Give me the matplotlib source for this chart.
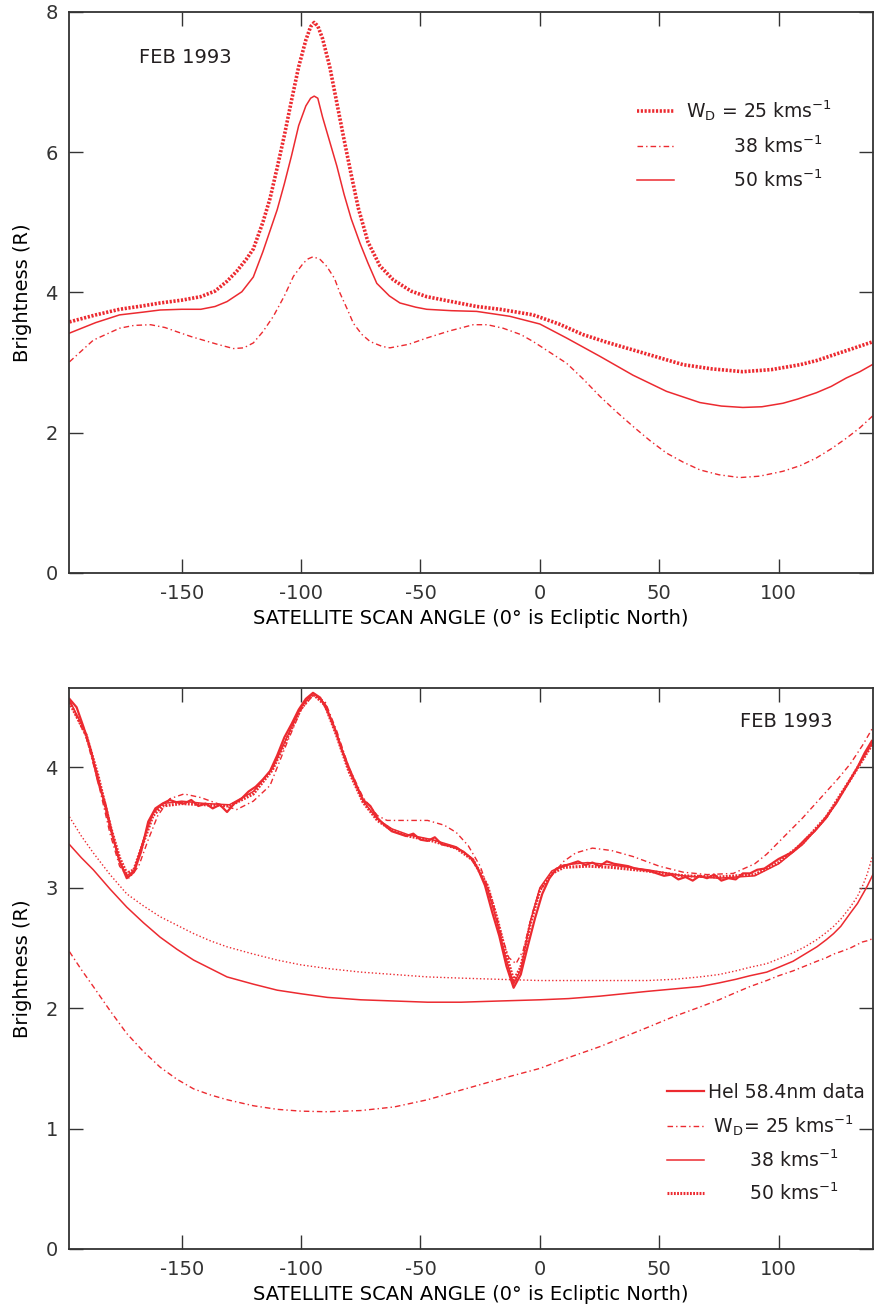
import matplotlib
matplotlib.use("Agg")
import matplotlib.pyplot as plt
import numpy as np

plt.rcParams["font.family"] = ["DejaVu Sans"]
plt.rcParams["mathtext.default"] = "regular"
plt.rcParams["axes.unicode_minus"] = False
plt.rcParams["axes.edgecolor"] = "#333333"
plt.rcParams["xtick.color"] = "#333333"
plt.rcParams["ytick.color"] = "#333333"
plt.rcParams["text.color"] = "#231f20"

RED = "#ec2a30"
DOT_THICK = (0, (0.6, 0.45))
DOT_THIN = (0, (1, 1.6))
DASH_DOT = (0, (4, 2.2, 1, 2.2))

# ---- top panel: model brightness vs scan angle ----
top_x25 = [-197, -186, -176, -166, -159, -150, -142, -136, -131, -127, -123, -120, -116,
           -113, -110, -107, -104, -101, -98, -96, -94.5, -93, -91, -88, -85, -82, -79,
           -76, -72, -67, -61.4, -54, -47.4, -37, -26.5, -16.7, -2.8, 8, 18, 28, 39, 50,
           60, 72, 85, 97, 109, 116, 123, 131, 139.7]
top_y25 = [3.58, 3.68, 3.76, 3.81, 3.85, 3.89, 3.94, 4.02, 4.16, 4.30, 4.47, 4.62, 5.00,
           5.34, 5.78, 6.24, 6.74, 7.22, 7.60, 7.79, 7.85, 7.80, 7.62, 7.22, 6.70, 6.18, 5.68,
           5.20, 4.72, 4.38, 4.18, 4.02, 3.94, 3.87, 3.80, 3.76, 3.68, 3.55, 3.40, 3.29, 3.18,
           3.07, 2.97, 2.91, 2.87, 2.90, 2.97, 3.03, 3.11, 3.20, 3.30]

top_x38 = [-197, -187, -176, -170, -163, -157, -152, -146, -141, -135, -128.3, -124, -120,
           -116, -111.6, -107, -103.2, -99, -97, -94.9, -92, -89.2, -86, -83.7, -80.5, -78.1,
           -74.5, -71.1, -66, -62.8, -55, -47.4, -38, -27.9, -22, -15.4, -8, -2.8, 4, 11.2,
           18, 25.1, 32, 39, 46, 53, 60, 67, 75, 83.7, 92, 101.8, 109, 115.8, 122, 128.3,
           134, 139.7]
top_y38 = [3.01, 3.32, 3.49, 3.53, 3.54, 3.50, 3.44, 3.37, 3.32, 3.26, 3.20, 3.21, 3.28,
           3.44, 3.66, 3.95, 4.23, 4.42, 4.48, 4.51, 4.47, 4.37, 4.20, 3.99, 3.75, 3.56,
           3.40, 3.30, 3.23, 3.21, 3.26, 3.35, 3.45, 3.54, 3.54, 3.49, 3.40, 3.30, 3.15, 2.99,
           2.77, 2.52, 2.30, 2.09, 1.89, 1.71, 1.58, 1.47, 1.40, 1.36, 1.38, 1.45, 1.53, 1.64,
           1.77, 1.92, 2.07, 2.25]

top_x50 = [-197, -186, -176, -166, -159, -150, -142, -136, -131, -124.8, -120, -116, -113,
           -110, -107, -104, -101, -98, -96, -94.5, -93, -91, -88, -85, -82, -79, -75.3,
           -72, -68.3, -63, -58.6, -52, -47.4, -37, -26.5, -12.6, 0, 11.2, 25.1, 39, 53, 67,
           76, 85, 93, 101.8, 108, 115.8, 122, 128.3, 134, 139.7]
top_y50 = [3.42, 3.57, 3.68, 3.72, 3.75, 3.76, 3.76, 3.80, 3.87, 4.01, 4.22, 4.58, 4.88,
           5.18, 5.55, 5.95, 6.38, 6.66, 6.77, 6.80, 6.77, 6.50, 6.15, 5.80, 5.40, 5.05, 4.70,
           4.42, 4.13, 3.95, 3.85, 3.79, 3.76, 3.74, 3.73, 3.66, 3.55, 3.35, 3.09, 2.82, 2.59,
           2.43, 2.38, 2.36, 2.37, 2.42, 2.48, 2.57, 2.66, 2.78, 2.87, 2.98]

# ---- bottom panel: HeI 58.4 nm data and fitted models ----
data_x = np.arange(-197, 140, 3)
data_y = [4.57, 4.50, 4.33, 4.14, 3.88, 3.70, 3.44, 3.22, 3.08, 3.13,
          3.30, 3.55, 3.66, 3.70, 3.73, 3.71, 3.70, 3.73, 3.68, 3.70,
          3.66, 3.69, 3.63, 3.70, 3.74, 3.80, 3.84, 3.90, 3.97, 4.10,
          4.25, 4.36, 4.48, 4.57, 4.62, 4.58, 4.47, 4.33, 4.15, 4.00,
          3.86, 3.73, 3.68, 3.58, 3.52, 3.47, 3.45, 3.43, 3.45, 3.40,
          3.39, 3.42, 3.36, 3.35, 3.33, 3.30, 3.25, 3.16, 3.02, 2.80,
          2.60, 2.35, 2.17, 2.28, 2.52, 2.75, 2.95, 3.08, 3.16, 3.18,
          3.20, 3.22, 3.19, 3.21, 3.18, 3.22, 3.20, 3.19, 3.18, 3.16,
          3.15, 3.14, 3.12, 3.10, 3.11, 3.07, 3.09, 3.06, 3.10, 3.08,
          3.11, 3.06, 3.08, 3.07, 3.12, 3.12, 3.15, 3.16, 3.20, 3.24,
          3.27, 3.30, 3.36, 3.42, 3.47, 3.54, 3.62, 3.70, 3.80, 3.90,
          4.00, 4.12, 4.22]

fit_x = [-197, -190, -185, -180, -176, -173, -170, -166, -162, -158, -150, -140, -130,
         -120, -112, -105, -100, -95, -90, -85, -80, -74, -68, -62, -55, -45, -35, -28,
         -22, -18, -14, -11, -8, -4, 0, 5, 10, 20, 30, 45, 60, 75, 90, 100, 110, 120,
         130, 139.7]
fit38_y = [4.56, 4.28, 3.92, 3.50, 3.22, 3.10, 3.14, 3.40, 3.62, 3.70, 3.72, 3.70, 3.69,
           3.80, 3.99, 4.29, 4.50, 4.62, 4.53, 4.27, 3.98, 3.72, 3.57, 3.49, 3.44, 3.40,
           3.34, 3.24, 3.00, 2.72, 2.40, 2.20, 2.32, 2.72, 3.00, 3.14, 3.19, 3.21, 3.19,
           3.15, 3.10, 3.08, 3.10, 3.20, 3.36, 3.58, 3.90, 4.22]
fit50_y = [4.54, 4.27, 3.93, 3.52, 3.25, 3.12, 3.15, 3.38, 3.60, 3.68, 3.70, 3.69, 3.68,
           3.78, 3.98, 4.28, 4.49, 4.61, 4.52, 4.26, 3.97, 3.71, 3.56, 3.48, 3.43, 3.39,
           3.33, 3.23, 3.02, 2.75, 2.44, 2.23, 2.34, 2.70, 2.98, 3.12, 3.17, 3.18, 3.17,
           3.14, 3.10, 3.09, 3.11, 3.21, 3.37, 3.59, 3.90, 4.21]

fit25_x = [-197, -190, -185, -180, -176, -172, -168, -164, -160, -155, -149, -142, -135,
           -127, -120, -113, -106, -100, -95, -90, -85, -80, -74, -68, -64, -55, -47, -40,
           -35, -30, -25, -20, -16, -13, -10, -7, -3, 0, 4, 10, 15, 22, 30, 39, 50, 60, 70,
           81, 90, 95, 100, 105, 110, 115, 120, 125, 130, 135, 139.7]
fit25_y = [4.55, 4.25, 3.88, 3.45, 3.18, 3.08, 3.18, 3.40, 3.60, 3.74, 3.78, 3.75, 3.70,
           3.65, 3.72, 3.85, 4.20, 4.48, 4.60, 4.55, 4.30, 4.00, 3.75, 3.60, 3.56, 3.56,
           3.56, 3.52, 3.46, 3.35, 3.18, 2.90, 2.60, 2.42, 2.37, 2.48, 2.80, 2.98, 3.08, 3.22,
           3.29, 3.33, 3.31, 3.26, 3.18, 3.13, 3.11, 3.12, 3.20, 3.28, 3.38, 3.48, 3.58, 3.69,
           3.80, 3.91, 4.03, 4.18, 4.34]

# unscaled model curves below the data
low_x = [-197, -192, -187, -180, -173, -166, -159, -152, -145, -138, -131, -120, -110,
         -100, -89, -75, -61, -47, -33, -17, 0, 12, 25, 35, 45, 56, 67, 75, 82, 88, 95,
         100, 106, 111, 116, 120, 123, 126, 130, 133, 135, 137, 139.7]
low50_y = [3.59, 3.43, 3.29, 3.11, 2.95, 2.85, 2.76, 2.69, 2.62, 2.56, 2.51, 2.45, 2.40,
           2.36, 2.33, 2.30, 2.28, 2.26, 2.25, 2.24, 2.23, 2.23, 2.23, 2.23, 2.23, 2.24,
           2.26, 2.28, 2.31, 2.34, 2.37, 2.41, 2.46, 2.51, 2.57, 2.63, 2.68, 2.74, 2.84,
           2.93, 3.01, 3.11, 3.29]
low38_y = [3.36, 3.25, 3.15, 2.99, 2.84, 2.71, 2.59, 2.49, 2.40, 2.33, 2.26, 2.20, 2.15,
           2.12, 2.09, 2.07, 2.06, 2.05, 2.05, 2.06, 2.07, 2.08, 2.10, 2.12, 2.14, 2.16,
           2.18, 2.21, 2.24, 2.27, 2.30, 2.34, 2.39, 2.45, 2.51, 2.57, 2.62, 2.68, 2.79,
           2.87, 2.94, 3.01, 3.12]
low25_y = [2.47, 2.32, 2.18, 1.98, 1.79, 1.64, 1.51, 1.41, 1.33, 1.28, 1.24, 1.19, 1.16,
           1.145, 1.14, 1.15, 1.18, 1.24, 1.32, 1.41, 1.50, 1.59, 1.68, 1.76, 1.84, 1.93,
           2.01, 2.07, 2.13, 2.18, 2.23, 2.27, 2.31, 2.35, 2.39, 2.42, 2.45, 2.47, 2.50,
           2.53, 2.55, 2.56, 2.58]

x_ticks = [-150, -100, -50, 0, 50, 100]
xlabel = "SATELLITE SCAN ANGLE (0\u00b0 is Ecliptic North)"

fig = plt.figure(figsize=(8.74, 13.15), dpi=100)
ax1 = fig.add_axes([0.0789, 0.5643, 0.9205, 0.4266])
ax2 = fig.add_axes([0.0789, 0.0502, 0.9205, 0.4266])

ax1.plot(top_x25, top_y25, color=RED, lw=2.6, linestyle=DOT_THICK,
         label=r"W$_D$ = 25 kms$^{-1}$")
ax1.plot(top_x38, top_y38, color=RED, lw=1.0, linestyle=DASH_DOT,
         label="        38 kms$^{-1}$")
ax1.plot(top_x50, top_y50, color=RED, lw=1.1, label="        50 kms$^{-1}$")
ax1.set_ylim(0, 8)
ax1.set_yticks([0, 2, 4, 6, 8])
ax1.text(-168, 7.35, "FEB 1993", fontsize=14, va="center")
ax1.legend(loc="upper left", bbox_to_anchor=(0.685, 0.876), frameon=False, fontsize=13.5,
           handlelength=2.0, handletextpad=0.6, labelspacing=0.65)

ax2.plot(low_x, low50_y, color=RED, lw=1.0, linestyle=DOT_THIN)
ax2.plot(low_x, low38_y, color=RED, lw=1.1)
ax2.plot(low_x, low25_y, color=RED, lw=1.0, linestyle=DASH_DOT)
h25, = ax2.plot(fit25_x, fit25_y, color=RED, lw=1.0, linestyle=DASH_DOT)
h50, = ax2.plot(fit_x, fit50_y, color=RED, lw=2.2, linestyle=DOT_THICK)
h38, = ax2.plot(fit_x, fit38_y, color=RED, lw=1.1)
hdat, = ax2.plot(data_x, data_y, color=RED, lw=1.6)
ax2.set_ylim(0, 4.66)
ax2.set_yticks([0, 1, 2, 3, 4])
ax2.text(83.7, 4.38, "FEB 1993", fontsize=14, va="center")
ax2.legend([hdat, h25, h38, h50],
           ["Hel 58.4nm data", r" W$_D$= 25 kms$^{-1}$",
            "       38 kms$^{-1}$", "       50 kms$^{-1}$"],
           loc="upper left", bbox_to_anchor=(0.722, 0.326), frameon=False, fontsize=13.5,
           handlelength=2.0, handletextpad=0.2, labelspacing=0.6)

for ax in (ax1, ax2):
    ax.set_xlim(-197.2, 139.7)
    ax.set_xticks(x_ticks)
    ax.tick_params(direction="in", top=True, right=True, length=10, width=1.0,
                   labelsize=14, pad=8)
    ax.set_xlabel(xlabel, fontsize=14, labelpad=4)
    ax.set_ylabel("Brightness (R)", fontsize=14, labelpad=10)
    for s in ax.spines.values():
        s.set_linewidth(1.3)

plt.savefig("out.png", dpi=100)
plt.close()
